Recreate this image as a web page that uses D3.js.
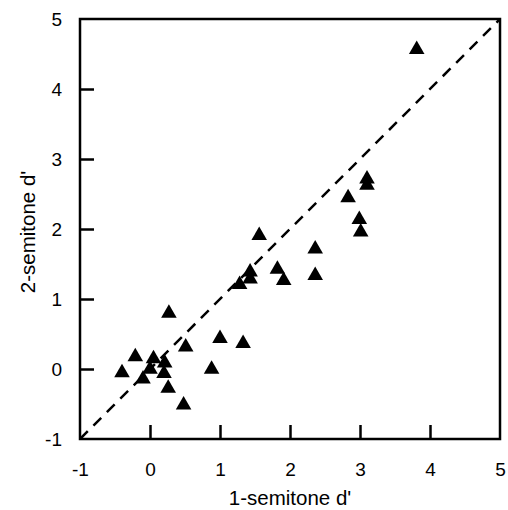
<!DOCTYPE html>
<html>
<head>
	<meta charset="utf-8">
	<script src="https://d3js.org/d3.v7.min.js"></script>
	<style>
		body{ margin: 0; background: white; }
		text{ font-family: "Liberation Sans", Arial, sans-serif; fill: black; }
		.frame{ fill: none; stroke: black; stroke-width: 2.5; }
		.diag{ fill: none; stroke: black; stroke-width: 2.5; stroke-dasharray: 11 8; }
	</style>
</head>
<body>
	<script>
		var width = 508, height = 510;
		var left = 80, top_ = 19, right = 500, bottom = 439;

		// 1-semitone d' (x) vs 2-semitone d' (y), one per listener
		var oneSemitone = [-0.40, -0.21, -0.10, 0.00, 0.05, 0.21, 0.20, 0.26, 0.27, 0.48,
						0.51, 0.88, 1.00, 1.33, 1.28, 1.43, 1.43, 1.56, 1.82, 1.91,
						2.36, 2.36, 2.83, 2.99, 3.01, 3.10, 3.10, 3.81];
		var twoSemitone = [-0.04, 0.19, -0.13, 0.01, 0.16, 0.10, -0.05, -0.26, 0.81, -0.50,
						0.33, 0.01, 0.45, 0.38, 1.22, 1.30, 1.40, 1.92, 1.44, 1.28,
						1.73, 1.35, 2.46, 2.15, 1.97, 2.73, 2.64, 4.58];
		var tickValues = [-1, 0, 1, 2, 3, 4, 5];
		var xTitle = "1-semitone d'", yTitle = "2-semitone d'";

		var points = oneSemitone.map(function(v, i){ return {x: v, y: twoSemitone[i]}; });

		var svg = d3.select("body").append("svg")
					.attr("width", width).attr("height", height);

		var x = d3.scaleLinear().domain([-1, 5]).range([left, right]);
		var y = d3.scaleLinear().domain([-1, 5]).range([bottom, top_]);

		// ticks point inward, no top/right axis ticks
		var xAxis = d3.axisBottom(x).tickValues(tickValues).tickSize(-14).tickPadding(0)
					.tickFormat(d3.format("d"));
		var yAxis = d3.axisLeft(y).tickValues(tickValues).tickSize(-14).tickPadding(0)
					.tickFormat(d3.format("d"));

		var gx = svg.append("g").attr("transform", "translate(0," + bottom + ")").call(xAxis);
		var gy = svg.append("g").attr("transform", "translate(" + left + ",0)").call(yAxis);

		[gx, gy].forEach(function(g){
			g.select(".domain").remove();
			g.selectAll(".tick line").attr("stroke", "black").attr("stroke-width", 2.5);
			g.selectAll(".tick text").attr("fill", "black")
				.style("font-size", "19px")
				.style("font-family", "'Liberation Sans', Arial, sans-serif");
		});
		// minus sign as hyphen like the original
		gx.selectAll(".tick text").text(function(d){ return String(d); })
			.attr("y", 37).attr("dy", null);
		gy.selectAll(".tick text").text(function(d){ return String(d); })
			.attr("x", -18).attr("dy", "0.36em");
		gx.selectAll(".tick").filter(function(d){ return d == -1 || d == 5; }).select("line").remove();
		gy.selectAll(".tick").filter(function(d){ return d == -1 || d == 5; }).select("line").remove();

		svg.append("rect").attr("class", "frame")
			.attr("x", x(-1)).attr("y", y(5))
			.attr("width", x(5) - x(-1)).attr("height", y(-1) - y(5));

		svg.append("line").attr("class", "diag")
			.attr("x1", x(-1)).attr("y1", y(-1))
			.attr("x2", x(5)).attr("y2", y(5));

		var tri = d3.symbol().type(d3.symbolTriangle).size(105);
		svg.append("g").selectAll("path")
			.data(points)
			.enter().append("path")
			.attr("d", tri)
			.attr("fill", "black")
			.attr("transform", function(d){
				return "translate(" + x(d.x) + "," + (y(d.y) + 1) + ")";
			});

		svg.append("text").text(xTitle)
			.attr("x", 290).attr("y", 505)
			.attr("text-anchor", "middle")
			.style("font-size", "20.5px");

		svg.append("text").text(yTitle)
			.attr("transform", "translate(35,232) rotate(-90)")
			.attr("text-anchor", "middle")
			.style("font-size", "20.5px");
	</script>
</body>
</html>
